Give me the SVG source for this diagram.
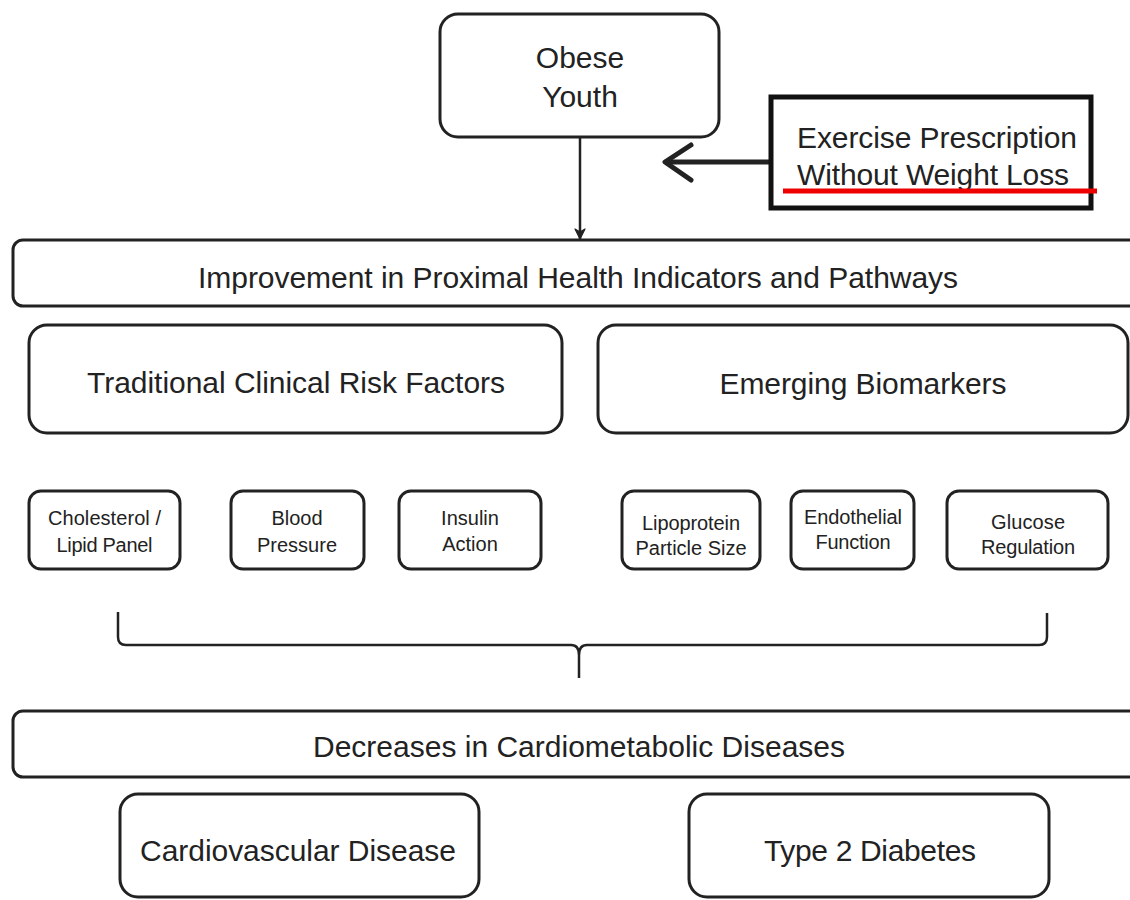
<svg xmlns="http://www.w3.org/2000/svg" width="1130" height="900" viewBox="0 0 1130 900">
<style>
.box{fill:#fff;stroke:#222;stroke-width:3}
.t{font-family:"Liberation Sans",Arial,sans-serif;fill:#222;text-anchor:middle}
.big{font-size:30px}
.sm{font-size:20px}
.con{fill:none;stroke:#222}
</style>
<defs>
<marker id="ah" markerWidth="14" markerHeight="14" refX="11" refY="7" orient="auto" markerUnits="userSpaceOnUse">
<path d="M1,2 L11,7 L1,12 L4,7 Z" fill="#222" stroke="#222" stroke-width="1.2" stroke-linejoin="round"/>
</marker>
</defs>
<rect width="1130" height="900" fill="#fff"/>
<g id="connectors">
<line class="con" x1="580" y1="137" x2="580" y2="239" stroke-width="2.5" marker-end="url(#ah)"/>
<line class="con" x1="769" y1="162" x2="666" y2="162" stroke-width="5"/>
<path class="con" d="M691,145 L665,162 L691,180" stroke-width="5" stroke-linecap="round" stroke-linejoin="round"/>
<path class="con" d="M118,612 V637 Q118,645 126,645 H571 Q579,645 579,655 V678 M579,655 Q579,645 587,645 H1039 Q1047,645 1047,637 V613" stroke-width="2.5"/>
</g>
<g id="obese">
<rect class="box" x="440" y="14" width="279" height="123" rx="18"/>
<text class="t big" x="580" y="68">Obese</text>
<text class="t big" x="580" y="107">Youth</text>
</g>
<g id="exercise">
<rect x="771" y="97" width="320" height="111" fill="#fff" stroke="#111" stroke-width="5"/>
<text class="t big" x="797" y="148" style="text-anchor:start" textLength="280">Exercise Prescription</text>
<text class="t big" x="797" y="185" style="text-anchor:start" textLength="272">Without Weight Loss</text>
<line x1="783" y1="191" x2="1097" y2="191" stroke="#e00" stroke-width="5"/>
</g>
<g id="improvement">
<rect class="box" x="13" y="240" width="1130" height="66" rx="10"/>
<text class="t big" x="578" y="288" textLength="760">Improvement in Proximal Health Indicators and Pathways</text>
</g>
<g id="traditional">
<rect class="box" x="29" y="325" width="533" height="108" rx="18"/>
<text class="t big" x="296" y="393" textLength="418">Traditional Clinical Risk Factors</text>
</g>
<g id="emerging">
<rect class="box" x="598" y="325" width="530" height="108" rx="18"/>
<text class="t big" x="863" y="394" textLength="287">Emerging Biomarkers</text>
</g>
<g id="cholesterol">
<rect class="box" x="29" y="491" width="151" height="78" rx="12"/>
<text class="t sm" x="104.5" y="525" textLength="113">Cholesterol /</text>
<text class="t sm" x="104.5" y="552" textLength="96">Lipid Panel</text>
</g>
<g id="blood">
<rect class="box" x="231" y="491" width="133" height="78" rx="12"/>
<text class="t sm" x="297" y="525">Blood</text>
<text class="t sm" x="297" y="552">Pressure</text>
</g>
<g id="insulin">
<rect class="box" x="399" y="491" width="142" height="78" rx="12"/>
<text class="t sm" x="470" y="525">Insulin</text>
<text class="t sm" x="470" y="551">Action</text>
</g>
<g id="lipoprotein">
<rect class="box" x="622" y="491" width="138" height="78" rx="12"/>
<text class="t sm" x="691" y="530" textLength="98">Lipoprotein</text>
<text class="t sm" x="691" y="555" textLength="111">Particle Size</text>
</g>
<g id="endothelial">
<rect class="box" x="791" y="491" width="123" height="78" rx="12"/>
<text class="t sm" x="853" y="524" textLength="98">Endothelial</text>
<text class="t sm" x="853" y="549" textLength="75">Function</text>
</g>
<g id="glucose">
<rect class="box" x="947" y="491" width="161" height="78" rx="12"/>
<text class="t sm" x="1028" y="529" textLength="74">Glucose</text>
<text class="t sm" x="1028" y="554" textLength="94">Regulation</text>
</g>
<g id="decreases">
<rect class="box" x="13" y="711" width="1130" height="66" rx="10"/>
<text class="t big" x="579" y="757" textLength="532">Decreases in Cardiometabolic Diseases</text>
</g>
<g id="cardiovascular">
<rect class="box" x="120" y="794" width="359" height="103" rx="18"/>
<text class="t big" x="298" y="861" textLength="316">Cardiovascular Disease</text>
</g>
<g id="diabetes">
<rect class="box" x="689" y="794" width="360" height="103" rx="18"/>
<text class="t big" x="870" y="861" textLength="212">Type 2 Diabetes</text>
</g>
</svg>
